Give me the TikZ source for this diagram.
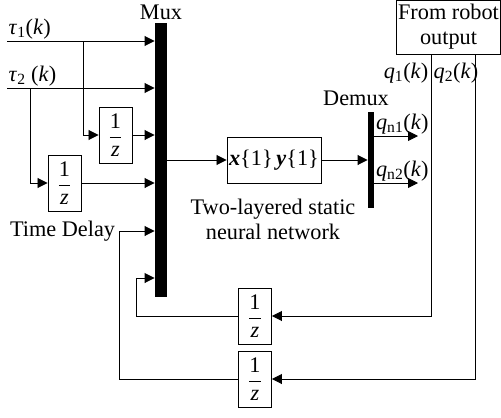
\documentclass[tikz,border=0pt]{standalone}
\usepackage{fontspec}
\usepackage{amsmath}
\setmainfont{Liberation Serif}
\usetikzlibrary{arrows.meta}
\newcommand{\Delayz}{$\dfrac{\mbox{1}}{\mbox{\itshape z}}$}
\newcommand{\Sig}[2]{\textit{#1}\textsubscript{#2}(\textit{k})}

\begin{document}
\begin{tikzpicture}[x=0.03cm,y=-0.03cm,line width=0.8pt,
  >={Triangle[length=0.3cm,width=0.3cm]},
  font=\fontsize{19}{21.3}\selectfont,
  delaybox/.style={draw,minimum width=0.99cm,minimum height=1.68cm,inner sep=0pt},
  barbox/.style={fill=black,inner sep=0pt}]
\useasboundingbox (0,0) rectangle (501,417);
% bars
\node[barbox,minimum width=0.36cm,minimum height=8.22cm] (mux) at (161,160) {};
\node (muxlbl) at (161,12) {Mux};
\node[barbox,minimum width=0.18cm,minimum height=2.88cm] (demux) at (371,160) {};
\node (demuxlbl) at (356,98) {Demux};
% blocks
\node[draw,minimum width=2.82cm,minimum height=1.38cm,inner sep=1pt] (nn) at (274,160) {\textbf{\textit{x}}\{1\}\,\textbf{\textit{y}}\{1\}};
\node[align=center] (nnlbl) at (273,219) {Two-layered static\\neural network};
\node[draw,align=center,minimum width=3.09cm,minimum height=1.62cm,inner sep=1pt] (robot) at (448.5,27) {From robot\\output};
\node[delaybox] (d1) at (115.5,135) {\Delayz};
\node[delaybox] (d2) at (64.5,183) {\Delayz};
\node[delaybox] (d3) at (255,316) {\Delayz};
\node[delaybox] (d4) at (255,379) {\Delayz};
% inputs
\coordinate (tau1) at (7,41);
\coordinate (tau2) at (7,88);
\coordinate (b1) at (83,41);
\coordinate (b2) at (30,88);
\node[anchor=south west,inner sep=1pt] (tau1lbl) at (tau1) {\Sig{τ}{1}};
\node[anchor=south west,inner sep=1pt] (tau2lbl) at (tau2) {\textit{τ}\textsubscript{2} (\textit{k})};
\draw[->] (tau1) -- (tau1 -| mux.west);
\draw[->] (tau2) -- (tau2 -| mux.west);
\draw[->] (b1) |- (d1.west);
\draw[->] (d1.east) -- (d1.east -| mux.west);
\draw[->] (b2) |- (d2.west);
\draw[->] (d2.east) -- (d2.east -| mux.west);
% network
\draw[->] (mux.east |- nn.west) -- (nn.west);
\draw[->] (nn.east) -- (nn.east -| demux.west);
\coordinate (qn1) at (418,136);
\coordinate (qn2) at (418,183);
\draw[->] (qn1 -| demux.east) -- (qn1);
\draw[->] (qn2 -| demux.east) -- (qn2);
\node[anchor=south west,inner sep=1pt] (qn1lbl) at (qn1 -| demux.east) {\Sig{q}{n1}};
\node[anchor=south west,inner sep=1pt] (qn2lbl) at (qn2 -| demux.east) {\Sig{q}{n2}};
% feedback
\coordinate (r1) at (431,54);
\coordinate (r2) at (475,54);
\coordinate (fb1) at (136,278);
\coordinate (fb2) at (119,231);
\node[anchor=east,inner sep=1pt] (q1lbl) at (430,73) {\Sig{q}{1}};
\node[anchor=west,inner sep=1pt] (q2lbl) at (432,73) {\Sig{q}{2}};
\draw[->] (r1) |- (d3.east);
\draw[->] (d3.west) -| (fb1) -- (fb1 -| mux.west);
\draw[->] (r2) |- (d4.east);
\draw[->] (d4.west) -| (fb2) -- (fb2 -| mux.west);
\node[anchor=east,inner sep=3pt] (tdlbl) at (fb2) {Time Delay};
\end{tikzpicture}
\end{document}
